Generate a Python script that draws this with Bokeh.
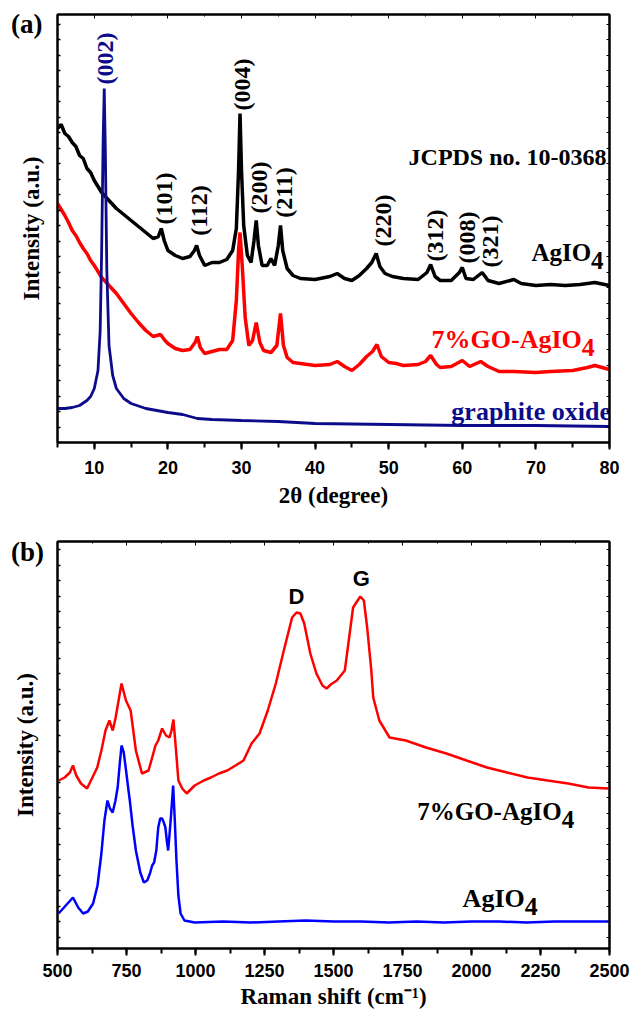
import math
from bokeh.plotting import figure
from bokeh.models import (ColumnDataSource, LinearAxis, SingleIntervalTicker,
                          Range1d, Div, CustomJSTickFormatter)
from bokeh.layouts import column
from bokeh.embed import file_html
from bokeh.resources import INLINE
from bokeh.core.properties import value

# ---------------- Panel (a): XRD patterns ----------------
xrd_agio4_2theta = [5, 5.5, 6, 6.5, 7, 7.5, 8, 8.5, 9, 9.5,
                    10, 11, 12, 13, 14, 15, 16, 17, 18, 18.7,
                    19.1, 19.5, 20, 21, 22, 23, 23.6, 23.9, 24.3, 25,
                    26, 27, 28, 28.8, 29.3, 29.6, 29.8, 30.0, 30.3, 30.8,
                    31.3, 31.7, 32.0, 32.3, 32.8, 33.5, 34.0, 34.5, 35.0, 35.3,
                    35.6, 36.2, 37, 38, 40, 42, 43, 44, 45, 46,
                    47, 47.7, 48.3, 48.8, 49.5, 50.5, 52, 54, 55.2, 55.7,
                    56.3, 57, 58.5, 59.6, 60.0, 60.5, 61.5, 62.7, 63.5, 65,
                    67, 68, 70, 72, 74, 76, 78, 80]
xrd_agio4_int = [314, 318, 309, 306, 300, 296, 287, 284, 274, 270,
                 262, 250, 242, 234, 228, 222, 216, 210, 204, 206,
                 214, 202, 192, 187, 184, 186, 192, 197, 187, 177,
                 180, 180, 183, 192, 214, 272, 329, 272, 217, 187,
                 180, 202, 222, 197, 177, 177, 184, 177, 197, 217,
                 192, 174, 167, 164, 163, 166, 169, 164, 162, 167,
                 174, 180, 189, 176, 169, 166, 164, 163, 170, 178,
                 166, 162, 162, 170, 175, 164, 163, 170, 162, 159,
                 163, 159, 157, 158, 157, 158, 160, 157]

xrd_go_agio4_2theta = [5, 5.5, 6, 6.5, 7, 7.5, 8, 8.5, 9, 9.5,
                       10, 11, 12, 13, 14, 15, 16, 17, 18, 19,
                       19.6, 20, 21, 22, 23, 23.7, 24, 24.4, 25, 26,
                       27, 28, 28.8, 29.3, 29.6, 29.8, 30.1, 30.5, 31, 31.5,
                       32, 32.5, 33, 34, 34.8, 35.3, 35.7, 36.2, 37, 38,
                       40, 42, 43, 44, 45, 46, 47, 47.8, 48.4, 49,
                       50, 51, 52, 54, 55, 55.7, 56.5, 57, 58.5, 60,
                       61, 62.5, 63.5, 65, 67, 70, 72, 75, 77, 78,
                       80]
xrd_go_agio4_int = [239, 233, 227, 220, 212, 207, 200, 194, 189, 182,
                    177, 165, 157, 149, 139, 129, 120, 112, 106, 108,
                    102, 99, 94, 92, 93, 100, 106, 95, 89, 91,
                    93, 93, 102, 142, 192, 210, 177, 125, 97, 102,
                    120, 100, 92, 90, 97, 129, 97, 85, 80, 79,
                    77, 78, 81, 76, 72, 78, 86, 91, 98, 86,
                    80, 79, 77, 78, 81, 87, 78, 75, 76, 82,
                    76, 81, 76, 71, 71, 70, 71, 72, 75, 77,
                    73]

xrd_go_2theta = [5, 6, 7, 8, 9, 9.5, 10, 10.5, 10.8, 11.0,
                 11.2, 11.35, 11.5, 11.7, 12.0, 12.5, 13, 14, 15, 17,
                 20, 22, 24, 26, 30, 35, 40, 50, 60, 70, 80]
xrd_go_int = [34, 34, 35, 37, 42, 46, 54, 72, 112, 192,
              302, 354, 292, 172, 97, 67, 54, 44, 39, 34,
              30, 28, 24, 23, 22, 21, 19, 18, 17, 17, 16]

peak_labels = ["(002)", "(004)", "(101)", "(112)", "(200)", "(211)",
               "(220)", "(312)", "(008)", "(321)"]
peak_label_2theta = [11.4, 30.0, 19.5, 24.2, 32.4, 35.8, 49.2, 56.3, 60.6, 63.7]
peak_label_int = [384, 358, 244, 232, 255, 250, 222, 207, 205, 201]
peak_label_colors = ["#0c0c8a"] + ["black"] * 9

# ---------------- Panel (b): Raman spectra ----------------
raman_go_shift = [504, 526, 545, 556, 568, 585, 607, 630, 644, 659,
                  674, 688, 700, 710, 732, 748, 765, 784, 806, 830,
                  843, 855, 865, 879, 893, 906, 913, 920, 928, 938,
                  952, 968, 997, 1030, 1056, 1085, 1115, 1145, 1174, 1203,
                  1232, 1262, 1291, 1320, 1340, 1350, 1366, 1380, 1394, 1416,
                  1438, 1460, 1475, 1490, 1512, 1541, 1571, 1597, 1610, 1622,
                  1637, 1644, 1666, 1703, 1762, 1835, 1909, 1982, 2056, 2129,
                  2203, 2276, 2350, 2424, 2497]
raman_go_int = [172, 175, 180, 187, 177, 169, 164, 177, 185, 202,
                222, 232, 222, 234, 269, 252, 242, 202, 179, 182,
                195, 207, 212, 224, 217, 215, 222, 233, 207, 172,
                164, 159, 167, 172, 175, 179, 182, 187, 192, 209,
                219, 242, 269, 302, 324, 335, 340, 339, 329, 299,
                279, 267, 264, 268, 272, 282, 345, 356, 352, 325,
                282, 255, 232, 215, 212, 205, 199, 192, 185, 180,
                175, 172, 169, 165, 164]

raman_agio4_shift = [504, 530, 556, 575, 593, 610, 629, 645, 659, 670,
                     681, 690, 700, 710, 718, 725, 732, 740, 747, 755,
                     762, 772, 784, 800, 813, 825, 835, 843, 850, 858,
                     865, 872, 879, 885, 891, 896, 901, 910, 919, 925,
                     931, 938, 946, 960, 997, 1100, 1200, 1300, 1400, 1500,
                     1600, 1700, 1800, 1900, 2000, 2100, 2200, 2300, 2400, 2497]
raman_agio4_int = [39, 47, 55, 45, 39, 41, 49, 67, 99, 132,
                   152, 144, 140, 152, 165, 187, 207, 200, 185, 167,
                   152, 127, 102, 80, 70, 72, 79, 87, 90, 102,
                   125, 134, 134, 130, 125, 112, 102, 132, 167, 132,
                   92, 57, 39, 32, 30, 31, 30, 31, 32, 31,
                   31, 30, 31, 30, 31, 31, 30, 31, 31, 31]

band_labels = ["D", "G"]
band_label_shift = [1366, 1601]
band_label_int = [356, 374]

SERIF = value("Liberation Serif")
SANS = value("Liberation Sans")
NAVY = "#0c0c8a"
BLANK = "return ''"


def style_axes(p, xtick_interval, left_standoff):
    p.outline_line_color = "black"
    p.outline_line_width = 2
    p.background_fill_color = "white"
    p.border_fill_color = "white"
    p.xgrid.visible = False
    p.ygrid.visible = False
    xa = p.below[0]
    ya = p.left[0]
    xa.ticker = SingleIntervalTicker(interval=xtick_interval, num_minor_ticks=2)
    xa.axis_line_width = 2
    xa.major_tick_line_width = 2
    xa.minor_tick_line_width = 2
    xa.major_tick_out = 7
    xa.major_tick_in = 0
    xa.minor_tick_out = 5
    xa.minor_tick_in = 0
    xa.major_label_text_font = "Liberation Sans"
    xa.major_label_text_font_style = "bold"
    xa.major_label_text_font_size = "18px"
    xa.major_label_text_color = "black"
    xa.major_label_standoff = 11
    xa.axis_label_text_font = "Liberation Serif"
    xa.axis_label_text_font_style = "bold"
    xa.axis_label_text_font_size = "23px"
    xa.axis_label_text_color = "black"
    xa.axis_label_standoff = 6
    ya.ticker = SingleIntervalTicker(interval=15.5, num_minor_ticks=0)
    ya.axis_line_width = 2
    ya.major_tick_in = 3
    ya.major_tick_out = 0
    ya.major_tick_line_width = 1.5
    ya.minor_tick_line_color = None
    ya.formatter = CustomJSTickFormatter(code=BLANK)
    ya.major_label_text_font_size = "1px"
    ya.major_label_standoff = 0
    ya.axis_label_text_font = "Liberation Serif"
    ya.axis_label_text_font_style = "bold"
    ya.axis_label_text_font_size = "23px"
    ya.axis_label_text_color = "black"
    ya.axis_label_standoff = left_standoff
    # mirrored axes (ticks only)
    top = LinearAxis(ticker=SingleIntervalTicker(interval=xtick_interval, num_minor_ticks=2),
                     formatter=CustomJSTickFormatter(code=BLANK),
                     major_label_text_font_size="1px", major_label_standoff=0,
                     major_tick_in=4, major_tick_out=0, minor_tick_in=2, minor_tick_out=0,
                     axis_line_width=2)
    right = LinearAxis(ticker=SingleIntervalTicker(interval=15.5, num_minor_ticks=0),
                       formatter=CustomJSTickFormatter(code=BLANK),
                       major_label_text_font_size="1px", major_label_standoff=0,
                       major_tick_in=3, major_tick_out=0, minor_tick_line_color=None,
                       axis_line_width=2)
    p.add_layout(top, "above")
    p.add_layout(right, "right")
    return xa, ya


def sub4_label(p, x, y, main, color, size):
    w = 0.5 * size
    p.text(x=[x], y=[y], text=[main], text_font=SERIF, text_font_style="bold",
           text_font_size=f"{size}px", text_color=color, text_align="right",
           text_baseline="middle", x_offset=-w)
    p.text(x=[x], y=[y], text=["4"], text_font=SERIF, text_font_style="bold",
           text_font_size=f"{size}px", text_color=color, text_align="right",
           text_baseline="middle", y_offset=round(size * 0.3))


def panel_tag(text, left, top):
    return Div(text=text, margin=0,
               styles={"position": "absolute", "left": f"{left}px", "top": f"{top}px",
                       "font-family": "Liberation Serif", "font-weight": "bold",
                       "font-size": "27px", "line-height": "27px", "color": "black",
                       "z-index": "10"})


# ---------------- figure (a) ----------------
p1 = figure(width=630, height=522, output_backend="svg", toolbar_location=None,
            x_range=Range1d(5, 80), y_range=Range1d(0, 428),
            min_border_left=52, min_border_right=19, min_border_top=14,
            min_border_bottom=80)
xa1, ya1 = style_axes(p1, 10, 14)
xa1.axis_label = "2θ (degree)"
ya1.axis_label = "Intensity (a.u.)"

p1.line(xrd_agio4_2theta, xrd_agio4_int, line_color="black", line_width=3.5)
p1.line(xrd_go_agio4_2theta, xrd_go_agio4_int, line_color="#ff0000", line_width=3.5)
p1.line(xrd_go_2theta, xrd_go_int, line_color=NAVY, line_width=2.8)

src_lab = ColumnDataSource(dict(x=peak_label_2theta, y=peak_label_int,
                                t=peak_labels, c=peak_label_colors))
p1.text(x="x", y="y", text="t", text_color="c", source=src_lab, angle=math.pi / 2,
        text_font=SERIF, text_font_style="bold", text_font_size="24px",
        text_align="center", text_baseline="middle")

p1.text(x=[79.6], y=[286], text=["JCPDS no. 10-0368"], text_font=SERIF,
        text_font_style="bold", text_font_size="24px", text_color="black",
        text_align="right", text_baseline="middle")
sub4_label(p1, 79.2, 190, "AgIO", "black", 25)
sub4_label(p1, 78.0, 103, "7%GO-AgIO", "#ff0000", 26)
p1.text(x=[80.2], y=[31], text=["graphite oxide"], text_font=SERIF,
        text_font_style="bold", text_font_size="26px", text_color=NAVY,
        text_align="right", text_baseline="middle")

# ---------------- figure (b) ----------------
p2 = figure(width=630, height=492, output_backend="svg", toolbar_location=None,
            x_range=Range1d(500, 2500), y_range=Range1d(4, 411),
            min_border_left=57, min_border_right=21, min_border_top=19,
            min_border_bottom=66)
xa2, ya2 = style_axes(p2, 250, 20)
xa2.axis_label = "Raman shift (cm⁻¹)"
xa2.major_label_standoff = 8
xa2.axis_label_standoff = 4
ya2.axis_label = "Intensity (a.u.)"

p2.line(raman_go_shift, raman_go_int, line_color="#ff0000", line_width=2.5)
p2.line(raman_agio4_shift, raman_agio4_int, line_color="#0000ff", line_width=2.5)

p2.text(x=band_label_shift, y=band_label_int, text=band_labels, text_font=SANS,
        text_font_style="bold", text_font_size="22px", text_color="black",
        text_align="center", text_baseline="middle")
sub4_label(p2, 2372, 141, "7%GO-AgIO", "black", 25)
sub4_label(p2, 2240, 54, "AgIO", "black", 26)

tag_a = panel_tag("(a)", 11, 11)
tag_b = panel_tag("(b)", 11, 539)

layout = column(p1, p2, tag_a, tag_b, spacing=0)
open("out.html", "w").write(file_html(layout, INLINE))
